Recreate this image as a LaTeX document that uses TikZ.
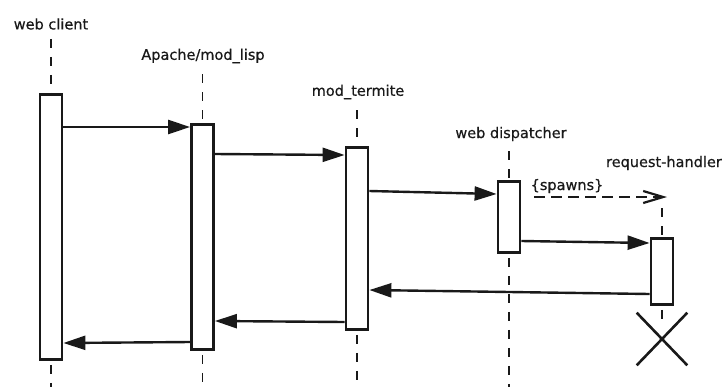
\documentclass[tikz,border=0pt]{standalone}
\usepackage{fontspec}
\setmainfont{DejaVu Sans}
\newfontfamily\lblfont[FakeBold=0.5]{DejaVu Sans}
\usetikzlibrary{arrows.meta,shapes.misc}
\begin{document}
\begin{tikzpicture}[x=1pt,y=-1pt,
  lbl/.style={font=\lblfont\fontsize{14.5}{16}\selectfont, inner sep=0pt, text=black!90},
  actbox/.style={draw=black!90, line width=2.8pt, fill=white, minimum width=22pt, inner sep=0pt, anchor=north},
  life/.style={draw=black!90, line width=1.6pt, dash pattern=on 9pt off 9pt},
  msg/.style={draw=black!90, line width=2.4pt, -{Triangle[length=22pt,width=14pt]}},
  spawn/.style={draw=black!90, line width=2.2pt, dash pattern=on 11pt off 6pt, -{Straight Barb[length=20pt,width=12pt]}},
  xmark/.style={cross out, draw=black!90, line width=2.6pt, minimum width=48pt, minimum height=50pt, inner sep=0pt},
]
\useasboundingbox (0,0) rectangle (723,386);
\coordinate (bottom) at (0,392);

% labels
\node[lbl] (wcl) at (51,24) {web client};
\node[lbl] (apl) at (203,56) {Apache/mod\_lisp};
\node[lbl] (mtl) at (358,92) {mod\_termite};
\node[lbl] (wdl) at (511,134) {web dispatcher};
\node[lbl, anchor=east] (rhl) at (722,163) {request-handler};

% activation boxes
\node[actbox, minimum height=265pt] (wc) at (51,93) {};
\node[actbox, minimum height=225pt] (ap) at (202.5,123) {};
\node[actbox, minimum height=182pt] (mt) at (357,146) {};
\node[actbox, minimum height=71pt]  (wd) at (509,180) {};
\node[actbox, minimum height=66pt]  (rh) at (662,237) {};
\node[xmark] (x) at (662,339) {};

% lifelines
\draw[life] ([yshift=-9pt]wcl.south -| wc.north) -- (wc.north);
\draw[life] ([yshift=-11pt]apl.south -| ap.north) -- (ap.north);
\draw[life] ([yshift=-11pt]mtl.south -| mt.north) -- (mt.north);
\draw[life] ([yshift=-10pt]wdl.south -| wd.north) -- (wd.north);
\draw[life] (rh.north |- 0,208) -- (rh.north);
\draw[life] (wc.south) ++(0,4) -- (wc.south |- bottom);
\draw[life] (ap.south) ++(0,4) -- (ap.south |- bottom);
\draw[life] (mt.south) ++(0,4) -- (mt.south |- bottom);
\draw[life] (wd.south) ++(0,4) -- (wd.south |- bottom);
\draw[line width=1.6pt, draw=black!90] (rh.south) ++(0,4) -- ++(0,9);

% messages
\draw[msg] (wc.east |- 0,127) -- (ap.west |- 0,127);
\draw[msg] (ap.east |- 0,154) -- (mt.west |- 0,155);
\draw[msg] (mt.east |- 0,191) -- (wd.west |- 0,194);
\draw[spawn] ([xshift=13pt]wd.east |- 0,197) -- ([xshift=5pt]rh.north |- 0,197);
\node[lbl] (sp) at (567,186) {\{spawns\}};
\draw[msg] (wd.east |- 0,241) -- (rh.west |- 0,243);
\draw[msg] (rh.west |- 0,294) -- (mt.east |- 0,290);
\draw[msg] (mt.west |- 0,322) -- (ap.east |- 0,321);
\draw[msg] (ap.west |- 0,342) -- (wc.east |- 0,343);
\end{tikzpicture}
\end{document}
